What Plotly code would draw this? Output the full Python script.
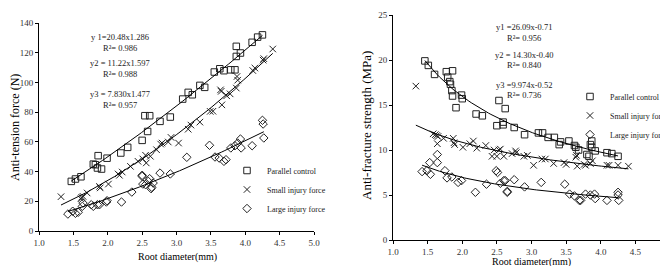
import numpy as np
import plotly.graph_objects as go

W, H = 668, 266

# ---------------- Left chart: anti-tension force (N) ----------------
pc_t_x = [1.47,1.53,1.61,1.79,1.82,1.85,1.86,1.91,1.99,2.19,2.29,2.50,2.54,2.58,2.61,2.76,2.91,3.09,3.17,3.23,3.34,3.41,3.55,3.63,3.69,3.79,3.85,3.87,3.87,3.93,4.10,4.18,4.25]
pc_t_y = [33.4,35.0,36.5,45.0,44.6,42.4,50.7,41.7,49.0,52.5,56.3,61.0,77.6,67.0,77.6,73.8,76.7,88.8,93.3,91.7,98.0,96.7,107.0,109.2,107.9,108.5,108.5,124.3,117.5,119.8,127.0,130.5,132.0]

si_t_x = [1.32,1.61,1.62,1.64,1.70,1.88,1.89,2.01,2.15,2.17,2.21,2.33,2.44,2.51,2.55,2.56,2.62,2.71,2.77,2.79,2.88,2.92,3.03,3.17,3.21,3.34,3.49,3.53,3.64,3.65,3.66,3.73,3.78,3.87,3.88,3.89,4.11,4.14,4.26,4.27,4.40]
si_t_y = [23.1,21.7,22.7,23.3,25.6,30.0,29.0,31.6,38.4,37.5,39.7,43.5,46.9,48.5,51.0,45.8,50.3,54.7,58.5,59.2,59.9,63.0,59.2,68.5,71.3,73.3,80.5,80.6,95.0,94.0,84.9,91.0,92.3,96.2,104.0,101.5,108.0,109.7,115.0,116.0,122.5]

li_t_x = [1.42,1.49,1.53,1.57,1.63,1.64,1.76,1.79,1.85,1.88,1.98,1.99,2.20,2.35,2.50,2.50,2.51,2.55,2.59,2.61,2.63,2.64,2.66,2.76,2.91,3.15,3.48,3.56,3.62,3.69,3.72,3.79,3.85,3.89,3.93,3.94,4.10,4.25,4.26,4.27]
li_t_y = [11.4,13.3,11.9,12.6,16.6,18.8,17.7,16.6,17.7,17.7,19.5,20.4,19.5,26.2,36.8,37.5,31.6,31.2,33.4,35.2,28.5,29.4,32.3,39.0,38.4,49.6,57.7,49.8,49.1,46.9,48.0,55.9,57.4,59.2,61.9,55.9,57.4,74.5,72.0,62.6]

# power-law fits y = a * x^b shown on the chart
fit_t = [(20.48, 1.286), (11.22, 1.597), (7.830, 1.477)]
eq_t = ["y 1=20.48x1.286", "R\u00b2= 0.986", "y2 = 11.22x1.597", "R\u00b2= 0.988", "y3 = 7.830x1.477", "R\u00b2= 0.957"]

# ---------------- Right chart: anti-fracture strength (MPa) ----------------
pc_s_x = [1.46,1.51,1.60,1.77,1.79,1.82,1.83,1.85,1.86,1.86,1.91,1.99,2.00,2.20,2.29,2.50,2.53,2.59,2.59,2.62,2.75,2.90,3.10,3.16,3.24,3.33,3.40,3.42,3.54,3.62,3.64,3.68,3.80,3.83,3.85,3.87,3.87,3.92,4.09,4.16,4.25]
pc_s_y = [19.9,19.4,18.4,18.7,18.1,17.6,17.3,16.6,18.8,16.0,14.7,16.1,15.7,14.0,13.8,12.7,15.5,13.1,12.8,14.6,12.5,11.7,11.9,11.9,11.4,11.4,10.6,10.9,11.0,10.5,10.3,10.0,9.5,9.3,10.6,10.3,11.0,9.9,9.7,9.6,9.3]

si_s_x = [1.33,1.58,1.61,1.63,1.65,1.64,1.73,1.87,1.88,1.89,2.01,2.11,2.16,2.21,2.34,2.46,2.53,2.55,2.43,2.50,2.60,2.72,2.77,2.78,2.89,2.94,3.03,3.15,3.20,3.32,3.47,3.50,3.64,3.65,3.66,3.76,3.78,3.85,3.88,4.09,4.12,4.25,4.40]
si_s_y = [17.1,11.8,11.7,11.6,11.5,10.7,11.3,11.3,10.8,10.6,10.3,10.7,11.0,10.2,10.5,10.0,10.0,10.1,9.3,9.3,9.3,9.6,9.9,9.7,9.3,9.4,8.3,9.0,9.0,8.5,8.6,8.4,9.2,9.4,8.2,8.4,8.3,8.5,8.8,8.3,8.3,8.3,8.2]

li_s_x = [1.42,1.49,1.53,1.54,1.64,1.64,1.75,1.78,1.85,1.94,1.99,2.19,2.35,2.49,2.51,2.55,2.60,2.62,2.65,2.65,2.75,2.90,3.14,3.48,3.55,3.62,3.69,3.71,3.78,3.85,3.91,3.92,4.09,4.25,4.25,4.26]
li_s_y = [7.6,7.7,8.6,7.3,8.6,9.5,7.7,6.9,7.0,6.4,6.6,5.3,6.2,7.7,7.5,6.3,6.6,6.6,5.4,5.3,6.7,5.9,6.4,6.2,5.1,4.9,4.4,4.4,5.1,5.0,5.1,4.6,4.4,5.3,5.0,4.4]

fit_s = [(26.09, -0.71), (14.30, -0.40), (9.974, -0.52)]
eq_s = ["y1 =26.09x-0.71", "R\u00b2= 0.956", "y2 = 14.30x-0.40", "R\u00b2= 0.840", "y3 =9.974x-0.52", "R\u00b2= 0.736"]

series_names = ["Parallel control", "Small injury force", "Large injury force"]
x_ticks = [1.0, 1.5, 2.0, 2.5, 3.0, 3.5, 4.0, 4.5, 5.0]

SERIF = "Liberation Serif"
INK = "#222222"
symbols = ["square-open", "x-thin-open", "diamond-open"]
sizes = [6.5, 6.5, 6.5]

fig = go.Figure()

def add_panel(xs, ys, fits, xa, ya, legend):
    for i, (x, y) in enumerate(zip(xs, ys)):
        fig.add_trace(go.Scatter(
            x=x, y=y, mode="markers", name=series_names[i],
            marker=dict(symbol=symbols[i], size=sizes[i], color=INK,
                        line=dict(width=1, color=INK)),
            xaxis=xa, yaxis=ya, legend=legend, showlegend=True))
    for i, x in enumerate(xs):
        a, b = fits[i]
        gx = np.linspace(min(x), max(x), 80)
        fig.add_trace(go.Scatter(
            x=gx, y=a * gx ** b, mode="lines",
            line=dict(color="black", width=1),
            xaxis=xa, yaxis=ya, showlegend=False, hoverinfo="skip"))

add_panel([pc_t_x, si_t_x, li_t_x], [pc_t_y, si_t_y, li_t_y], fit_t, "x", "y", "legend")
add_panel([pc_s_x, si_s_x, li_s_x], [pc_s_y, si_s_y, li_s_y], fit_s, "x2", "y2", "legend2")

def px_x(p):
    return p / W

def px_y(p):
    return 1 - p / H

axis_common = dict(showline=True, linecolor="black", linewidth=1, ticks="outside",
                   ticklen=3, tickcolor="black", showgrid=False, zeroline=False,
                   automargin=False,
                   tickfont=dict(family=SERIF, size=9, color="#333333"))

fig.update_layout(
    template="none",
    width=W, height=H, margin=dict(l=0, r=0, t=0, b=0, pad=0),
    paper_bgcolor="white", plot_bgcolor="white",
    xaxis=dict(domain=[px_x(31), px_x(306)], range=[1, 5], tickvals=x_ticks,
               tickformat=".1f", anchor="y", **axis_common),
    yaxis=dict(domain=[px_y(223), px_y(15)], range=[0, 140], dtick=20,
               anchor="x", **axis_common),
    xaxis2=dict(domain=[px_x(385), px_x(662)], range=[1, 5], tickvals=x_ticks,
                tickformat=".1f", anchor="y2", **axis_common),
    yaxis2=dict(domain=[px_y(232), px_y(7)], range=[0, 25], dtick=5,
                anchor="x2", **axis_common),
    legend=dict(x=px_x(219), y=px_y(148), xanchor="left", yanchor="top",
                bgcolor="rgba(0,0,0,0)", font=dict(family=SERIF, size=8, color=INK),
                itemwidth=30, tracegroupgap=0),
    legend2=dict(x=px_x(562), y=px_y(74), xanchor="left", yanchor="top",
                 bgcolor="rgba(0,0,0,0)", font=dict(family=SERIF, size=8, color=INK),
                 itemwidth=30, tracegroupgap=0),
)

ann = []
# equation labels
left_eq_y = [29, 39.5, 55, 66, 86, 97]
for t, yy in zip(eq_t, left_eq_y):
    ann.append(dict(text=t, x=px_x(112), y=px_y(yy), xref="paper", yref="paper",
                    xanchor="center", yanchor="middle",
                    showarrow=False, font=dict(family=SERIF, size=8.5, color=INK)))
right_eq_y = [19.3, 30, 46.7, 57.3, 76.7, 87.3]
for t, yy in zip(eq_s, right_eq_y):
    ann.append(dict(text=t, x=px_x(516), y=px_y(yy), xref="paper", yref="paper",
                    xanchor="center", yanchor="middle",
                    showarrow=False, font=dict(family=SERIF, size=8.5, color=INK)))
# axis titles
ann.append(dict(text="Root diameter(mm)", x=px_x(169), y=px_y(249), xref="paper", yref="paper",
                xanchor="center", yanchor="middle", borderpad=0,
                showarrow=False, font=dict(family=SERIF, size=10, color="black")))
ann.append(dict(text="Root diameter(mm)", x=px_x(523), y=px_y(254.3), xref="paper", yref="paper",
                xanchor="center", yanchor="middle", borderpad=0,
                showarrow=False, font=dict(family=SERIF, size=10, color="black")))
ann.append(dict(text="Anti-tension force (N)", x=px_x(7), y=px_y(120), xref="paper", yref="paper",
                xanchor="center", yanchor="middle",
                showarrow=False, textangle=-90, font=dict(family=SERIF, size=12, color="black")))
ann.append(dict(text="Anti-fracture strength (MPa)", x=px_x(359), y=px_y(118), xref="paper", yref="paper",
                xanchor="center", yanchor="middle",
                showarrow=False, textangle=-90, font=dict(family=SERIF, size=13, color="black")))
fig.update_layout(annotations=ann)

fig.write_html("out.html")
